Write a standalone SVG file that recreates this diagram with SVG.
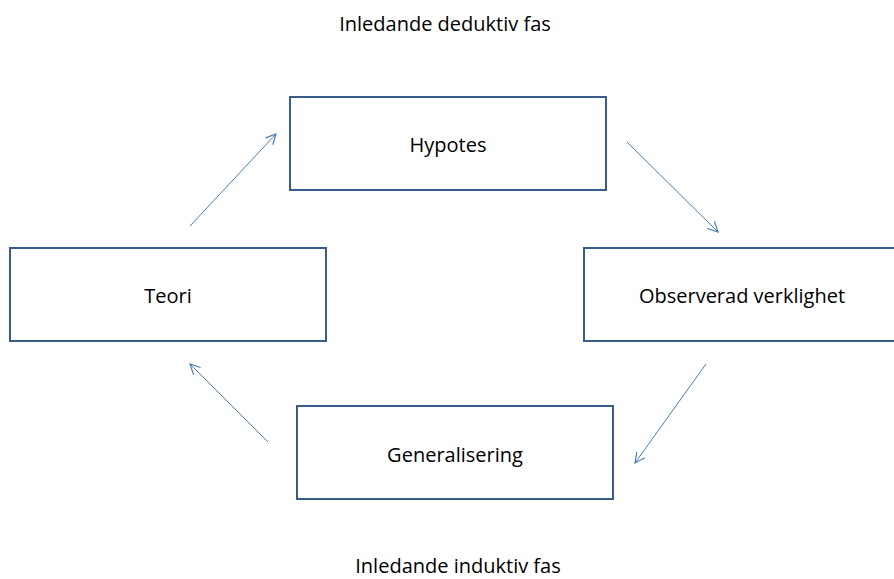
<svg xmlns="http://www.w3.org/2000/svg" width="894" height="579" viewBox="0 0 894 579">
  <style>
    .box { fill: #ffffff; stroke: #385d8a; stroke-width: 2; }
    .lbl { font-family: "Open Sans", "Noto Sans", "Liberation Sans", sans-serif; font-size: 20px; fill: #000000; text-anchor: middle; }
    .arrow { fill: none; stroke: #4a7ebb; stroke-width: 1; marker-end: url(#head); }
  </style>
  <defs>
    <marker id="head" viewBox="0 0 12 12" refX="11" refY="6" markerWidth="12" markerHeight="12" markerUnits="userSpaceOnUse" orient="auto">
      <path d="M1,1 L11,6 L1,11" fill="none" stroke="#4a7ebb" stroke-width="1.2"/>
    </marker>
  </defs>
  <rect width="894" height="579" fill="#ffffff"/>

  <text class="lbl" x="445" y="31">Inledande deduktiv fas</text>
  <text class="lbl" x="458" y="573">Inledande induktiv fas</text>

  <g id="hypotes">
    <rect class="box" x="290" y="97" width="316" height="93"/>
    <text class="lbl" x="448" y="152">Hypotes</text>
  </g>
  <g id="teori">
    <rect class="box" x="10" y="248" width="316" height="93"/>
    <text class="lbl" x="168" y="303">Teori</text>
  </g>
  <g id="observerad">
    <rect class="box" x="584" y="248" width="316" height="93"/>
    <text class="lbl" x="742" y="303">Observerad verklighet</text>
  </g>
  <g id="generalisering">
    <rect class="box" x="297" y="406" width="316" height="93"/>
    <text class="lbl" x="455" y="462">Generalisering</text>
  </g>

  <g id="connectors">
    <line class="arrow" x1="190" y1="226" x2="276" y2="134"/>
    <line class="arrow" x1="627" y1="142" x2="718" y2="232"/>
    <line class="arrow" x1="706" y1="364" x2="635" y2="463"/>
    <line class="arrow" x1="268" y1="442" x2="190" y2="364"/>
  </g>
</svg>
